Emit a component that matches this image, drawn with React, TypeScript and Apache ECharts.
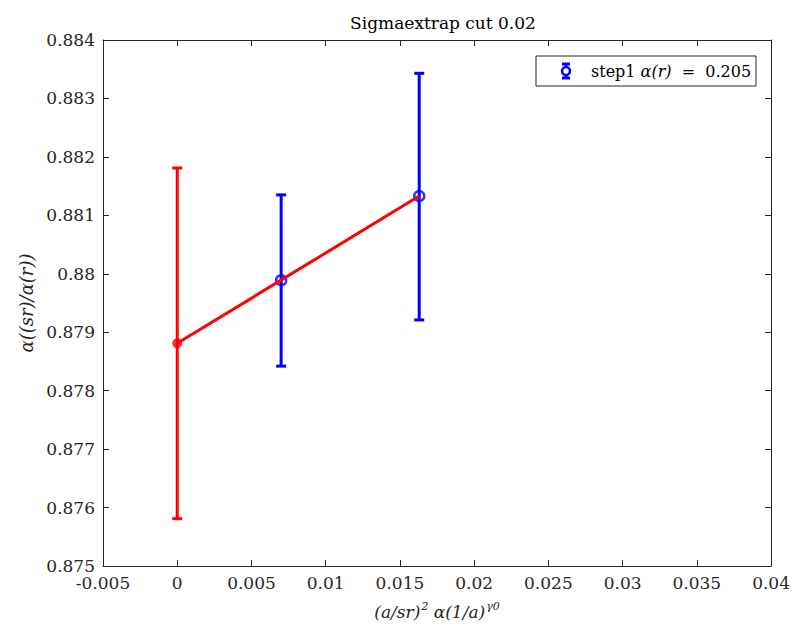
import React, { useEffect, useRef } from "react";
import * as echarts from "echarts";

const title = "Sigmaextrap cut 0.02";
const legendLabel = "step1";
const legendValue = "0.205";

// blue data points (step1)
const blueX = [0.007, 0.0163];
const blueY = [0.87989, 0.88133];
const blueLo = [0.87842, 0.87921];
const blueHi = [0.88135, 0.88343];

// red extrapolated point
const redX = [0];
const redY = [0.87881];
const redLo = [0.87581];
const redHi = [0.88181];

// fit line
const fitX = [0, 0.0163];
const fitY = [0.87881, 0.88133];

const xMin = -0.005, xMax = 0.04, xStep = 0.005;
const yMin = 0.875, yMax = 0.884, yStep = 0.001;

const FONT = "DejaVu Serif";
const AXIS_COLOR = "#262626";

function errSeries(name: string, xs: number[], lo: number[], hi: number[], color: string, z: number) {
  return {
    name,
    type: "custom",
    z,
    xAxisIndex: 0,
    yAxisIndex: 0,
    data: xs.map((x, i) => [x, lo[i], hi[i]]),
    renderItem: (params: any, api: any) => {
      const x = api.value(0);
      const p1 = api.coord([x, api.value(1)]);
      const p2 = api.coord([x, api.value(2)]);
      const hw = 5;
      const style = { stroke: color, lineWidth: 3, fill: "none" };
      return {
        type: "group",
        children: [
          { type: "line", shape: { x1: p1[0], y1: p1[1], x2: p2[0], y2: p2[1] }, style },
          { type: "line", shape: { x1: p1[0] - hw, y1: p1[1], x2: p1[0] + hw, y2: p1[1] }, style },
          { type: "line", shape: { x1: p2[0] - hw, y1: p2[1], x2: p2[0] + hw, y2: p2[1] }, style },
        ],
      };
    },
  };
}

export default function App() {
  const ref = useRef<HTMLDivElement>(null);
  useEffect(() => {
    if (!ref.current) return;
    const chart = echarts.init(ref.current, null, { renderer: "svg" });
    const gridL = 103, gridT = 40, gridW = 670, gridH = 526;
    const axisCommon = { min: xMin, max: xMax, interval: xStep };
    const yCommon = { min: yMin, max: yMax, interval: yStep };
    const lx = 536, ly = 56, lw = 220, lh = 30;
    const icx = 566, icy = 71;
    const blue = "#0000ff";
    const tickStyle = { show: true, inside: true, length: 6, lineStyle: { color: AXIS_COLOR } };
    const lineStyle = { show: true, onZero: false, lineStyle: { color: AXIS_COLOR, width: 1 } };
    chart.setOption({
      animation: false,
      backgroundColor: "#ffffff",
      title: {
        text: title,
        left: gridL + gridW / 2,
        textAlign: "center",
        top: 9,
        textStyle: { fontFamily: FONT, fontSize: 17, fontWeight: "normal", color: "#000" },
      },
      grid: { left: gridL, top: gridT, width: gridW, height: gridH },
      xAxis: [
        {
          type: "value",
          ...axisCommon,
          position: "bottom",
          axisLine: lineStyle,
          axisTick: tickStyle,
          splitLine: { show: false },
          axisLabel: {
            margin: 8,
            color: "#262626",
            fontFamily: FONT,
            fontSize: 17,
            formatter: (v: number) => String(parseFloat(v.toFixed(4))),
          },
          name: "{n|(a/sr)}{s|2}{n| α(1/a)}{s|γ0}",
          nameLocation: "middle",
          nameGap: 35,
          nameTextStyle: {
            rich: {
              n: { fontFamily: FONT, fontSize: 17, fontStyle: "italic", color: "#262626" },
              s: { fontFamily: FONT, fontSize: 11, fontStyle: "italic", color: "#262626", verticalAlign: "top", padding: [0, 0, 10, 1] },
            },
          },
        },
        {
          type: "value",
          ...axisCommon,
          position: "top",
          axisLine: lineStyle,
          axisTick: tickStyle,
          axisLabel: { show: false },
          splitLine: { show: false },
        },
      ],
      yAxis: [
        {
          type: "value",
          ...yCommon,
          position: "left",
          axisLine: lineStyle,
          axisTick: tickStyle,
          splitLine: { show: false },
          axisLabel: {
            margin: 8,
            color: "#262626",
            fontFamily: FONT,
            fontSize: 17,
            formatter: (v: number) => String(parseFloat(v.toFixed(4))),
          },
          name: "α((sr)/α(r))",
          nameLocation: "middle",
          nameGap: 63,
          nameRotate: 90,
          nameTextStyle: { fontFamily: FONT, fontSize: 18, fontStyle: "italic", color: "#262626" },
        },
        {
          type: "value",
          ...yCommon,
          position: "right",
          axisLine: lineStyle,
          axisTick: tickStyle,
          axisLabel: { show: false },
          splitLine: { show: false },
        },
      ],
      series: [
        errSeries("blueErr", blueX, blueLo, blueHi, blue, 2),
        {
          name: "blue",
          type: "scatter",
          z: 3,
          symbol: "circle",
          symbolSize: 10,
          itemStyle: { color: "rgba(0,0,0,0)", borderColor: blue, borderWidth: 2.5 },
          data: blueX.map((x, i) => [x, blueY[i]]),
        },
        errSeries("redErr", redX, redLo, redHi, "#ff0000", 4),
        {
          name: "fit",
          type: "line",
          z: 5,
          symbol: "none",
          lineStyle: { color: "#ff0000", width: 3 },
          data: fitX.map((x, i) => [x, fitY[i]]),
        },
        {
          name: "red",
          type: "scatter",
          z: 6,
          symbol: "circle",
          symbolSize: 10,
          itemStyle: { color: "#ff0000" },
          data: redX.map((x, i) => [x, redY[i]]),
        },
      ],
      graphic: [
        {
          type: "rect",
          z: 100,
          shape: { x: lx, y: ly, width: lw, height: lh },
          style: { fill: "#ffffff", stroke: AXIS_COLOR, lineWidth: 1 },
        },
        { type: "line", z: 101, shape: { x1: icx, y1: icy - 7, x2: icx, y2: icy + 7 }, style: { stroke: blue, lineWidth: 3 } },
        { type: "line", z: 101, shape: { x1: icx - 4, y1: icy - 7, x2: icx + 4, y2: icy - 7 }, style: { stroke: blue, lineWidth: 3 } },
        { type: "line", z: 101, shape: { x1: icx - 4, y1: icy + 7, x2: icx + 4, y2: icy + 7 }, style: { stroke: blue, lineWidth: 3 } },
        { type: "circle", z: 102, shape: { cx: icx, cy: icy, r: 4 }, style: { fill: "#ffffff", stroke: blue, lineWidth: 2.5 } },
        {
          type: "text",
          z: 102,
          x: 591,
          y: ly + lh / 2,
          style: {
            text: "{n|" + legendLabel + " }{i|α(r)}{n|  =  " + legendValue + "}",
            verticalAlign: "middle",
            rich: {
              n: { fontFamily: FONT, fontSize: 16, fill: "#000" },
              i: { fontFamily: FONT, fontSize: 16, fontStyle: "italic", fill: "#000" },
            },
          },
        },
      ],
    });
    return () => chart.dispose();
  }, []);
  return (
    <div
      ref={ref}
      style={{ position: "fixed", left: 0, top: 0, width: 793, height: 631, background: "#fff" }}
    />
  );
}
